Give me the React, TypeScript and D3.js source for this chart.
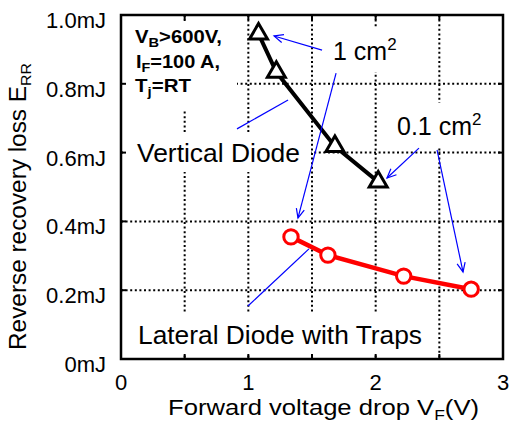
import React from "react";
import * as d3 from "d3";

// ---- data ----
const xTicks = [0, 1, 2, 3];
const yTicks = [0, 0.2, 0.4, 0.6, 0.8, 1.0];
const yTickLabels = ["0mJ", "0.2mJ", "0.4mJ", "0.6mJ", "0.8mJ", "1.0mJ"];
const xGrid = [0.5, 1, 1.5, 2, 2.5];
const yGrid = [0.2, 0.4, 0.6, 0.8];
const xMinor = [0.5, 1, 1.5, 2, 2.5];
const yMinor = [0.2, 0.4, 0.6, 0.8];

const verticalVF = [1.08, 1.22, 1.68, 2.02];
const verticalErr = [0.945, 0.834, 0.618, 0.515];
const lateralVF = [1.335, 1.625, 2.22, 2.75];
const lateralErr = [0.355, 0.302, 0.241, 0.203];

// annotation pointer lines [x1, y1, x2, y2, hasHead] in data units
const pointers: [number, number, number, number, boolean][] = [
  [1.579, 0.898, 1.202, 0.939, true],
  [1.689, 0.831, 1.39, 0.41, true],
  [0.911, 0.669, 1.312, 0.753, false],
  [0.997, 0.154, 1.476, 0.32, false],
  [2.34, 0.613, 2.089, 0.526, true],
  [2.482, 0.608, 2.686, 0.253, true],
];

const FONT = "'Liberation Sans', Arial, Helvetica, sans-serif";

export default function App() {
  const W = 512, H = 425;
  const x = d3.scaleLinear().domain([0, 3]).range([121, 503]);
  const y = d3.scaleLinear().domain([0, 1]).range([359, 15]);

  const lineGen = d3
    .line<[number, number]>()
    .x((d) => x(d[0]))
    .y((d) => y(d[1]));
  const vPts: [number, number][] = verticalVF.map((v, i) => [v, verticalErr[i]]);
  const lPts: [number, number][] = lateralVF.map((v, i) => [v, lateralErr[i]]);
  const tri = d3.symbol().type(d3.symbolTriangle).size(140)();

  const x0 = x(0), x1 = x(3), y0 = y(0), y1 = y(1);

  const masks = [
    { x: x0, y: y1 + 6, w: 116, h: 88 },
    { x: x0 + 2, y: 132, w: 188, h: 40 },
    { x: 325, y: 28, w: 80, h: 44 },
    { x: 392, y: 103, w: 103, h: 45 },
    { x: x0 + 2, y: 312, w: 314, h: 41 },
  ];

  return (
    <svg
      width={W}
      height={H}
      style={{ position: "absolute", left: 0, top: 0, background: "#fff" }}
      fontFamily={FONT}
    >
      <rect x={0} y={0} width={W} height={H} fill="#fff" />
      {/* grid */}
      {xGrid.map((v) => (
        <line key={"gx" + v} x1={x(v)} x2={x(v)} y1={y1} y2={y0} stroke="#000" strokeWidth={2} strokeDasharray="2 2.6" />
      ))}
      {yGrid.map((v) => (
        <line key={"gy" + v} x1={x0} x2={x1} y1={y(v)} y2={y(v)} stroke="#000" strokeWidth={2} strokeDasharray="2 2.6" />
      ))}
      {/* white boxes behind annotations */}
      {masks.map((m, i) => (
        <rect key={"m" + i} x={m.x} y={m.y} width={m.w} height={m.h} fill="#fff" />
      ))}
      {/* ticks */}
      {xMinor.map((v) => (
        <g key={"tx" + v}>
          <line x1={x(v)} x2={x(v)} y1={y0} y2={y0 - 5} stroke="#000" strokeWidth={2} />
          <line x1={x(v)} x2={x(v)} y1={y1} y2={y1 + 5} stroke="#000" strokeWidth={2} />
        </g>
      ))}
      {yMinor.map((v) => (
        <g key={"ty" + v}>
          <line x1={x0} x2={x0 + 5} y1={y(v)} y2={y(v)} stroke="#000" strokeWidth={2} />
          <line x1={x1} x2={x1 - 5} y1={y(v)} y2={y(v)} stroke="#000" strokeWidth={2} />
        </g>
      ))}
      {/* frame */}
      <rect x={x0} y={y1} width={x1 - x0} height={y0 - y1} fill="none" stroke="#000" strokeWidth={2.5} />

      {/* tick labels */}
      {xTicks.map((v) => (
        <text key={"xl" + v} x={x(v)} y={390} fontSize={22} textAnchor="middle" fill="#000">
          {v}
        </text>
      ))}
      {yTicks.map((v, i) => (
        <text key={"yl" + v} x={106} y={y(v) + 13} fontSize={22} textAnchor="end" fill="#000">
          {yTickLabels[i]}
        </text>
      ))}

      {/* axis titles */}
      <text x={168} y={415} fontSize={22} fill="#000" textLength={311} lengthAdjust="spacingAndGlyphs">
        Forward voltage drop V<tspan fontSize={15} dy={5}>F</tspan>
        <tspan dy={-5}>(V)</tspan>
      </text>
      <text
        transform={`translate(26,350) rotate(-90)`}
        fontSize={23}
        fill="#000"
        textLength={287}
        lengthAdjust="spacingAndGlyphs"
      >
        Reverse recovery loss E<tspan fontSize={15} dy={5}>RR</tspan>
      </text>

      {/* data lines */}
      <path d={lineGen(vPts) || ""} fill="none" stroke="#000" strokeWidth={4} />
      <path d={lineGen(lPts) || ""} fill="none" stroke="#ff0000" strokeWidth={4.5} />
      {vPts.map((p, i) => (
        <path key={"t" + i} d={tri || ""} transform={`translate(${x(p[0])},${y(p[1])})`} fill="#fff" stroke="#000" strokeWidth={3} />
      ))}
      {lPts.map((p, i) => (
        <circle key={"c" + i} cx={x(p[0])} cy={y(p[1])} r={7.2} fill="#fff" stroke="#ff0000" strokeWidth={3} />
      ))}

      {/* pointers */}
      {pointers.map((p, i) => {
        const ax = x(p[0]), ay = y(p[1]), bx = x(p[2]), by = y(p[3]);
        const ang = Math.atan2(by - ay, bx - ax);
        const L = 10, sp = 0.42;
        const h1x = bx - L * Math.cos(ang - sp), h1y = by - L * Math.sin(ang - sp);
        const h2x = bx - L * Math.cos(ang + sp), h2y = by - L * Math.sin(ang + sp);
        return (
          <g key={"p" + i} stroke="#0000ff" strokeWidth={1.2} fill="none">
            <line x1={ax} y1={ay} x2={bx} y2={by} />
            {p[4] && <polyline points={`${h1x},${h1y} ${bx},${by} ${h2x},${h2y}`} />}
          </g>
        );
      })}

      {/* annotation texts */}
      <g fontWeight="bold" fontSize={18} fill="#000">
        <text x={135} y={43} textLength={87} lengthAdjust="spacingAndGlyphs">
          V<tspan fontSize={13} dy={4}>B</tspan>
          <tspan dy={-4}>&gt;600V,</tspan>
        </text>
        <text x={136} y={68} textLength={84} lengthAdjust="spacingAndGlyphs">
          I<tspan fontSize={13} dy={4}>F</tspan>
          <tspan dy={-4}>=100 A,</tspan>
        </text>
        <text x={135} y={92} textLength={56} lengthAdjust="spacingAndGlyphs">
          T<tspan fontSize={13} dy={4}>j</tspan>
          <tspan dy={-4}>=RT</tspan>
        </text>
      </g>
      <text x={333} y={60} fontSize={25} fill="#000">
        1 cm<tspan fontSize={17} dy={-10}>2</tspan>
      </text>
      <text x={397} y={135} fontSize={25} fill="#000">
        0.1 cm<tspan fontSize={17} dy={-10}>2</tspan>
      </text>
      <text x={137} y={162} fontSize={26} fill="#000" textLength={163} lengthAdjust="spacingAndGlyphs">
        Vertical Diode
      </text>
      <text x={138} y={344} fontSize={26} fill="#000" textLength={284} lengthAdjust="spacingAndGlyphs">
        Lateral Diode with Traps
      </text>
    </svg>
  );
}
